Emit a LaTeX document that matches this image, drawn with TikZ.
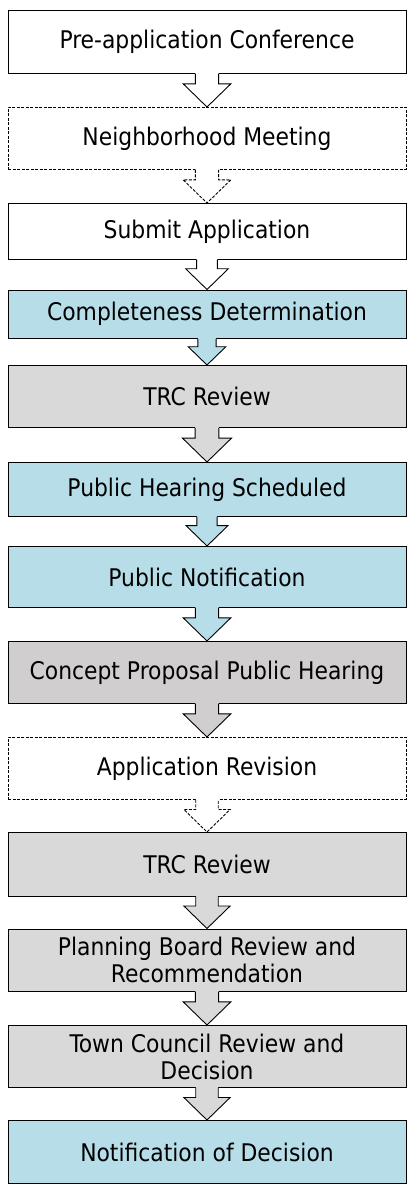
\documentclass[tikz,border=0pt]{standalone}
\usepackage{fontspec}
\setmainfont{DejaVu Sans Condensed}
\usetikzlibrary{calc}
\definecolor{pblue}{HTML}{B7DEE8}
\definecolor{pgray}{HTML}{D9D9D9}
\definecolor{dgray}{HTML}{D0CECE}
\tikzset{
  stepbox/.style={draw=black, line width=0.9pt, minimum width=398pt, inner sep=0pt,
    align=center, anchor=north, font=\fontsize{24.3}{27}\selectfont},
  optbox/.style={stepbox, dash pattern=on 3pt off 1.5pt},
  arrowline/.style={draw=black, line width=0.9pt, line join=miter},
  optline/.style={arrowline, dash pattern=on 3pt off 1.5pt}
}
\newcommand\flowarrow[4]{%
  \fill[#3] let \p1=(#1.south), \p2=(#2.north), \n1={\y1-\y2} in
    (\x1-0.35*\n1,\y1+0.7pt) -- (\x1-0.35*\n1,\y1-0.3*\n1) -- (\x1-0.72*\n1,\y1-0.3*\n1)
    -- (\x2,\y2) -- (\x1+0.72*\n1,\y1-0.3*\n1) -- (\x1+0.35*\n1,\y1-0.3*\n1)
    -- (\x1+0.35*\n1,\y1+0.7pt) -- cycle;
  \draw[#4] let \p1=(#1.south), \p2=(#2.north), \n1={\y1-\y2} in
    (\x1-0.35*\n1,\y1) -- (\x1-0.35*\n1,\y1-0.3*\n1) -- (\x1-0.72*\n1,\y1-0.3*\n1)
    -- (\x2,\y2) -- (\x1+0.72*\n1,\y1-0.3*\n1) -- (\x1+0.35*\n1,\y1-0.3*\n1)
    -- (\x1+0.35*\n1,\y1);
}
\begin{document}
\begin{tikzpicture}[x=1pt,y=-1pt]
\useasboundingbox[fill=white] (0,0) rectangle (417,1193);
\node[stepbox, fill=white, minimum height=63pt] (b1) at (207,10) {Pre-application Conference};
\node[optbox, fill=white, minimum height=62pt] (b2) at (207,107) {Neighborhood Meeting};
\node[stepbox, fill=white, minimum height=56pt] (b3) at (207,203) {Submit Application};
\node[stepbox, fill=pblue, minimum height=48.5pt] (b4) at (207,289.5) {Completeness Determination};
\node[stepbox, fill=pgray, minimum height=62pt] (b5) at (207,365) {TRC Review};
\node[stepbox, fill=pblue, minimum height=54pt] (b6) at (207,462) {Public Hearing Scheduled};
\node[stepbox, fill=pblue, minimum height=61pt] (b7) at (207,546) {Public Notification};
\node[stepbox, fill=dgray, minimum height=62pt] (b8) at (207,641) {Concept Proposal Public Hearing};
\node[optbox, fill=white, minimum height=62pt] (b9) at (207,737) {Application Revision};
\node[stepbox, fill=pgray, minimum height=63.5pt] (b10) at (207,832) {TRC Review};
\node[stepbox, fill=pgray, minimum height=62.5pt] (b11) at (207,928.5) {Planning Board Review and\\Recommendation};
\node[stepbox, fill=pgray, minimum height=62pt] (b12) at (207,1025) {Town Council Review and\\Decision};
\node[stepbox, fill=pblue, minimum height=63pt] (b13) at (207,1120) {Notification of Decision};
\flowarrow{b1}{b2}{white}{arrowline}
\flowarrow{b2}{b3}{white}{optline}
\flowarrow{b3}{b4}{white}{arrowline}
\flowarrow{b4}{b5}{pblue}{arrowline}
\flowarrow{b5}{b6}{pgray}{arrowline}
\flowarrow{b6}{b7}{pblue}{arrowline}
\flowarrow{b7}{b8}{pblue}{arrowline}
\flowarrow{b8}{b9}{dgray}{arrowline}
\flowarrow{b9}{b10}{white}{optline}
\flowarrow{b10}{b11}{pgray}{arrowline}
\flowarrow{b11}{b12}{pgray}{arrowline}
\flowarrow{b12}{b13}{pgray}{arrowline}
\end{tikzpicture}
\end{document}
